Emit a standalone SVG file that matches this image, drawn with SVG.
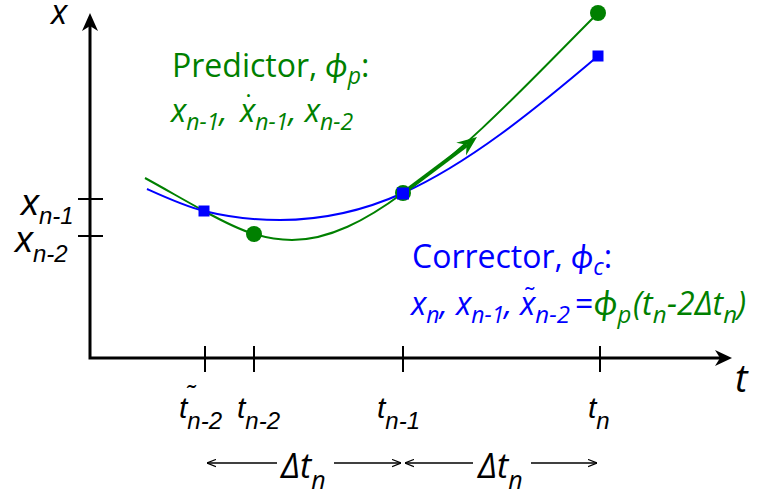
<svg xmlns="http://www.w3.org/2000/svg" width="758" height="495" viewBox="0 0 758 495">
<style>
.ax{stroke:#000;stroke-width:3;fill:none}
.tk{stroke:#000;stroke-width:2;fill:none}
.dl{stroke:#000;stroke-width:1.3;fill:none}
.ar{font-family:"Liberation Sans",Arial,sans-serif;font-style:italic;fill:#000}
.ca{font-family:"Open Sans",Lato,sans-serif}
.it{font-style:italic}
.g{fill:#008000}
.b{fill:#0000ff}
.gc{stroke:#008000;stroke-width:2;fill:none}
.bc{stroke:#0000ff;stroke-width:2;fill:none}
</style>
<defs>
<marker id="open" markerUnits="userSpaceOnUse" viewBox="0 0 10 10" refX="10" refY="5" markerWidth="9" markerHeight="9" orient="auto">
<path d="M0,1 L10,5 L0,9" fill="none" stroke="#000" stroke-width="1.3"/>
</marker>
</defs>
<rect width="758" height="495" fill="#fff"/>

<g id="connectors">
<g id="axes">
<path class="ax" d="M90,26 L90,358 L720,358"/>
<polygon points="90,13 98,31 90,26 82,31" fill="#000"/>
<polygon points="732,358 715,350 720,358 715,366" fill="#000"/>
<path class="tk" d="M78,199 H103 M78,236 H103 M205,346 V372 M254,346 V372 M403,346 V372 M600,346 V372"/>
</g>
<g id="delta-arrows">
<line class="dl" x1="277" y1="463" x2="207" y2="463" marker-end="url(#open)"/>
<line class="dl" x1="334" y1="463" x2="401" y2="463" marker-end="url(#open)"/>
<line class="dl" x1="473" y1="463" x2="405" y2="463" marker-end="url(#open)"/>
<line class="dl" x1="531" y1="463" x2="597" y2="463" marker-end="url(#open)"/>
</g>
<g id="curves">
<path id="predictor-curve" class="gc" d="M145,178 C164.7,188.8 184.3,200.2 204,211 C220.7,220.2 237.3,229 254,234 C266.7,237.8 279.3,240 292,240 C329,240 366,220.4 403,193 C468,148.8 533,78 598,13"/>
<path id="corrector-curve" class="bc" d="M147,189 C166,197.6 185,206.3 204,211 C229.3,217.3 254.7,220 280,220 C321,220 362,211.5 403,193 C468,163.75 533,111.25 598,56"/>
</g>
<g id="tangent-arrow">
<line x1="403" y1="193" x2="467" y2="145" stroke="#008000" stroke-width="4"/>
<polygon points="477,137 466,155.4 466.6,144.8 456.2,142.7" fill="#008000"/>
</g>
</g>

<g id="points">
<circle id="p-n2" cx="254" cy="234" r="8" fill="#008000"/>
<circle id="p-n1" cx="403" cy="193" r="8" fill="#008000"/>
<circle id="p-n" cx="598" cy="13" r="8" fill="#008000"/>
<rect id="c-n2" x="198.5" y="205.5" width="11" height="11" fill="#0000ff"/>
<rect id="c-n1" x="397" y="187.5" width="12" height="12" fill="#0000ff"/>
<rect id="c-n" x="592.5" y="50.5" width="11" height="11" fill="#0000ff"/>
</g>

<g id="labels">
<text class="ca it" x="51" y="24" font-size="34">x</text>
<text class="ca it" x="735" y="392" font-size="38">t</text>

<text class="ar" x="21" y="215" font-size="36">x<tspan font-size="24" dy="9">n-1</tspan></text>
<text class="ar" x="15" y="252" font-size="36">x<tspan font-size="24" dy="10">n-2</tspan></text>

<text class="ar" x="179" y="418" font-size="30">t<tspan font-size="24" dy="11">n-2</tspan></text>
<text class="ar" x="186" y="403" font-size="26">˜</text>
<text class="ar" x="237" y="418" font-size="30">t<tspan font-size="24" dy="11">n-2</tspan></text>
<text class="ar" x="377" y="418" font-size="30">t<tspan font-size="24" dy="11">n-1</tspan></text>
<text class="ar" x="588" y="418" font-size="30">t<tspan font-size="24" dy="11">n</tspan></text>

<text class="ca it" x="281" y="478" font-size="34">Δt<tspan font-size="25" dy="11">n</tspan></text>
<text class="ca it" x="478" y="478" font-size="34">Δt<tspan font-size="25" dy="11">n</tspan></text>

<g id="predictor-label">
<text class="ca g" x="172" y="77" font-size="32">Predictor, <tspan class="it">ϕ</tspan><tspan class="it" font-size="23" dy="7">p</tspan><tspan dy="-7">:</tspan></text>
<text class="ca it g" x="171" y="122" font-size="32">x<tspan font-size="23" dy="8">n-1</tspan><tspan dy="-8">, </tspan><tspan x="240">x</tspan><tspan font-size="23" dy="8">n-1</tspan><tspan dy="-8">, x</tspan><tspan font-size="23" dy="8">n-2</tspan></text>
<text class="ca g" x="246" y="114" font-size="28">˙</text>
</g>

<g id="corrector-label">
<text class="ca b" x="412" y="268" font-size="32">Corrector, <tspan class="it">ϕ</tspan><tspan class="it" font-size="23" dy="7">c</tspan><tspan dy="-7">:</tspan></text>
<text class="ca it b" x="411" y="315" font-size="32">x<tspan font-size="23" dy="8">n</tspan><tspan dy="-8">, x</tspan><tspan font-size="23" dy="8">n-1</tspan><tspan dy="-8">, </tspan><tspan x="520">x</tspan><tspan font-size="24" dy="8">n-2</tspan><tspan x="575" dy="-8" font-style="normal">=</tspan><tspan class="g" x="594" font-size="34">ϕ</tspan><tspan class="g" font-size="24" dy="8">p</tspan><tspan class="g" x="633" dy="-8">(t</tspan><tspan class="g" font-size="24" dy="8">n</tspan><tspan class="g" x="667" dy="-8">-2Δt</tspan><tspan class="g" font-size="24" dy="8">n</tspan><tspan class="g" dy="-8">)</tspan></text>
<text class="ca b" x="524" y="306" font-size="26">˜</text>
</g>
</g>
</svg>
